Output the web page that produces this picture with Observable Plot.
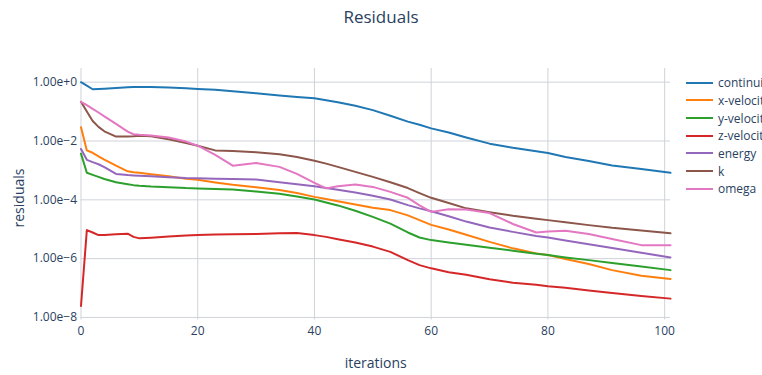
<!DOCTYPE html>
<html>
<head>
<meta charset="utf-8">
<script src="https://cdn.jsdelivr.net/npm/d3@7"></script>
<script src="https://cdn.jsdelivr.net/npm/@observablehq/plot@0.6"></script>
<style>
  html, body { margin: 0; padding: 0; background: #fff; }
  #wrap { position: relative; width: 762px; height: 375px; overflow: hidden; font-family: "Open Sans", sans-serif; color: #2a3f5f; }
  #title { position: absolute; left: 0; top: 6px; width: 762px; text-align: center; font-size: 17px; line-height: 22px; }
  #ylabel { position: absolute; left: 19px; top: 198px; font-size: 14px; line-height: 16px; white-space: nowrap; transform: translate(-50%, -50%) rotate(-90deg); }
  #legend { position: absolute; left: 686px; top: 74px; font-size: 12px; white-space: nowrap; }
  .row { height: 17.67px; display: flex; align-items: center; }
  .sw { width: 27px; height: 2px; margin-right: 5px; }
</style>
</head>
<body>
<div id="wrap">
  <div id="chart"></div>
  <div id="title">Residuals</div>
  <div id="ylabel">residuals</div>
  <div id="legend"></div>
</div>
<script>
const iterations = [0,1,2,3,4,6,8,9,10,12,15,18,20,23,26,30,34,37,40,42,44,47,50,53,56,58,60,63,66,70,74,78,80,83,87,91,96,101];

const seriesNames = ["continuity","x-velocity","y-velocity","z-velocity","energy","k","omega"];
const seriesColors = ["#1f77b4","#ff7f0e","#2ca02c","#d62728","#9467bd","#8c564b","#e377c2"];

const continuity = [1.00e0,7.59e-1,5.75e-1,5.89e-1,6.03e-1,6.31e-1,6.68e-1,6.84e-1,6.92e-1,6.84e-1,6.61e-1,6.17e-1,5.89e-1,5.50e-1,4.90e-1,4.17e-1,3.55e-1,3.16e-1,2.82e-1,2.45e-1,2.09e-1,1.58e-1,1.12e-1,7.24e-2,4.57e-2,3.55e-2,2.69e-2,1.95e-2,1.32e-2,8.13e-3,5.89e-3,4.47e-3,3.89e-3,2.88e-3,2.09e-3,1.48e-3,1.12e-3,8.32e-4];
const xVelocity = [2.95e-2,4.79e-3,3.98e-3,3.02e-3,2.34e-3,1.45e-3,9.33e-4,8.71e-4,8.32e-4,7.41e-4,6.31e-4,5.25e-4,4.79e-4,3.89e-4,3.24e-4,2.69e-4,2.14e-4,1.70e-4,1.26e-4,1.07e-4,8.91e-5,6.92e-5,5.37e-5,4.47e-5,2.95e-5,2.04e-5,1.41e-5,9.77e-6,6.46e-6,3.72e-6,2.24e-6,1.51e-6,1.32e-6,9.77e-7,6.61e-7,4.07e-7,2.63e-7,2.04e-7];
const yVelocity = [3.72e-3,8.32e-4,7.08e-4,6.03e-4,5.13e-4,3.98e-4,3.39e-4,3.16e-4,3.02e-4,2.82e-4,2.69e-4,2.51e-4,2.45e-4,2.34e-4,2.24e-4,1.91e-4,1.62e-4,1.29e-4,1.02e-4,8.13e-5,6.46e-5,4.27e-5,2.63e-5,1.55e-5,7.76e-6,5.25e-6,4.27e-6,3.55e-6,2.95e-6,2.34e-6,1.86e-6,1.48e-6,1.32e-6,1.10e-6,8.91e-7,7.08e-7,5.37e-7,4.07e-7];
const zVelocity = [2.45e-8,9.33e-6,7.76e-6,6.31e-6,6.31e-6,6.76e-6,7.08e-6,5.50e-6,4.90e-6,5.13e-6,5.62e-6,6.17e-6,6.31e-6,6.61e-6,6.76e-6,6.92e-6,7.24e-6,7.41e-6,6.31e-6,5.50e-6,4.57e-6,3.55e-6,2.57e-6,1.70e-6,8.91e-7,6.03e-7,4.68e-7,3.47e-7,2.82e-7,2.00e-7,1.51e-7,1.29e-7,1.15e-7,1.02e-7,8.32e-8,6.76e-8,5.37e-8,4.37e-8];
const energy = [5.37e-3,2.29e-3,1.91e-3,1.62e-3,1.29e-3,7.59e-4,6.92e-4,6.76e-4,6.61e-4,6.31e-4,5.89e-4,5.50e-4,5.37e-4,5.25e-4,5.13e-4,4.90e-4,3.98e-4,3.39e-4,2.88e-4,2.51e-4,2.19e-4,1.78e-4,1.38e-4,1.02e-4,6.61e-5,5.13e-5,4.07e-5,2.75e-5,1.82e-5,1.15e-5,8.13e-6,5.89e-6,5.25e-6,4.17e-6,3.09e-6,2.29e-6,1.58e-6,1.10e-6];
const k = [2.16e-1,1.00e-1,4.79e-2,3.02e-2,2.14e-2,1.41e-2,1.41e-2,1.45e-2,1.51e-2,1.45e-2,1.15e-2,8.51e-3,6.92e-3,4.79e-3,4.57e-3,4.17e-3,3.55e-3,2.88e-3,2.14e-3,1.70e-3,1.32e-3,8.91e-4,6.03e-4,3.98e-4,2.51e-4,1.70e-4,1.17e-4,7.76e-5,5.13e-5,3.80e-5,2.88e-5,2.29e-5,2.04e-5,1.74e-5,1.38e-5,1.12e-5,9.12e-6,7.24e-6];
const omega = [2.16e-1,1.66e-1,1.23e-1,9.33e-2,6.92e-2,3.80e-2,2.09e-2,1.70e-2,1.62e-2,1.55e-2,1.32e-2,9.55e-3,6.92e-3,3.39e-3,1.45e-3,1.78e-3,1.32e-3,7.59e-4,3.80e-4,2.45e-4,2.88e-4,3.31e-4,2.75e-4,1.86e-4,1.17e-4,6.46e-5,3.89e-5,4.79e-5,4.68e-5,3.55e-5,1.51e-5,7.76e-6,8.32e-6,8.91e-6,6.92e-6,4.68e-6,2.88e-6,2.88e-6];

const xTicks = [0,20,40,60,80,100];
const yTickValues = [1e0,1e-2,1e-4,1e-6,1e-8];
const yTickLabels = ["1.00e+0","1.00e\u22122","1.00e\u22124","1.00e\u22126","1.00e\u22128"];

const seriesValues = [continuity,xVelocity,yVelocity,zVelocity,energy,k,omega];
const rows = seriesNames.flatMap((name, s) =>
  iterations.map((it, i) => ({series: name, iteration: it, value: seriesValues[s][i]})));

const gridColor = "#cfd3d9";
const chart = Plot.plot({
  width: 762,
  height: 375,
  marginLeft: 80.5,
  marginRight: 92,
  marginTop: 68,
  marginBottom: 55.5,
  style: {fontFamily: "'Open Sans', sans-serif", fontSize: "12px", color: "#2a3f5f", background: "transparent"},
  x: {domain: [0, 101]},
  y: {type: "log", domain: [8.2e-9, 2.92]},
  color: {domain: seriesNames, range: seriesColors},
  marks: [
    Plot.gridX(xTicks, {stroke: gridColor, strokeOpacity: 1, strokeWidth: 1}),
    Plot.gridY(yTickValues, {stroke: gridColor, strokeOpacity: 1, strokeWidth: 1}),
    Plot.axisX(xTicks, {tickSize: 0, tickPadding: 6, label: null, fontSize: 12, fill: "#2a3f5f"}),
    Plot.axisY(yTickValues, {tickSize: 0, tickPadding: 4, label: null, fontSize: 12, fill: "#2a3f5f",
      tickFormat: d => yTickLabels[yTickValues.indexOf(d)]}),
    Plot.line(rows, {x: "iteration", y: "value", z: "series", stroke: "series", strokeWidth: 2, curve: "linear"}),
    Plot.text(["iterations"], {frameAnchor: "bottom", dy: 48, fontSize: 14, fill: "#2a3f5f", text: d => d})
  ]
});
document.getElementById("chart").appendChild(chart);

const legend = document.getElementById("legend");
seriesNames.forEach((name, i) => {
  const row = document.createElement("div");
  row.className = "row";
  const sw = document.createElement("div");
  sw.className = "sw";
  sw.style.background = seriesColors[i];
  const lab = document.createElement("span");
  lab.textContent = name;
  row.appendChild(sw);
  row.appendChild(lab);
  legend.appendChild(row);
});
</script>
</body>
</html>
